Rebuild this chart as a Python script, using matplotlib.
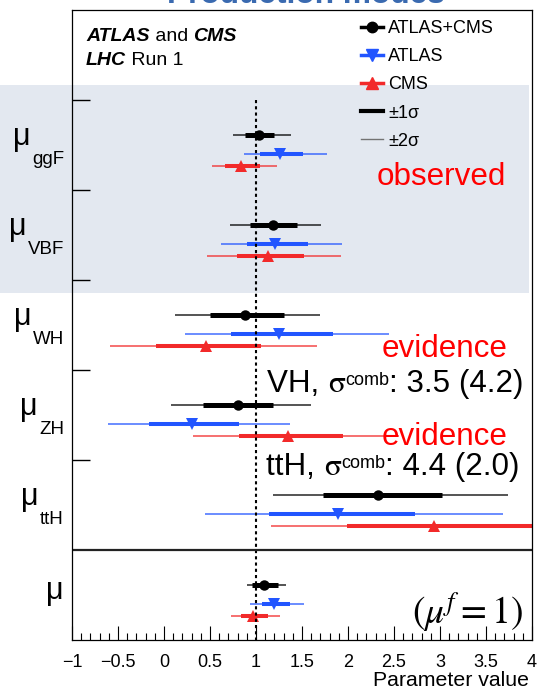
import matplotlib
matplotlib.use('Agg')
import matplotlib.pyplot as plt
import numpy as np
from matplotlib.lines import Line2D
from matplotlib.patches import Rectangle
from matplotlib.transforms import blended_transform_factory

plt.rcParams['font.family'] = ['Liberation Sans', 'DejaVu Sans']
plt.rcParams['mathtext.fontset'] = 'stix'

# rows from top to bottom, last one is the global signal strength
params = ['ggF', 'VBF', 'WH', 'ZH', 'ttH', '']

# best fit value, +-1 sigma and +-2 sigma intervals
comb = [1.03, 1.18, 0.88, 0.80, 2.33, 1.09]
comb_1s = [(0.88, 1.20), (0.94, 1.45), (0.50, 1.30), (0.42, 1.18), (1.73, 3.02), (0.96, 1.24)]
comb_2s = [(0.75, 1.38), (0.72, 1.71), (0.12, 1.70), (0.08, 1.60), (1.18, 3.74), (0.90, 1.33)]

atlas = [1.26, 1.21, 1.25, 0.30, 1.89, 1.20]
atlas_1s = [(1.04, 1.51), (0.90, 1.56), (0.73, 1.84), (-0.16, 0.82), (1.14, 2.73), (1.06, 1.37)]
atlas_2s = [(0.87, 1.77), (0.62, 1.93), (0.23, 2.45), (-0.61, 1.37), (0.45, 3.68), (0.94, 1.52)]

cms = [0.84, 1.13, 0.46, 1.35, 2.93, 0.97]
cms_1s = [(0.66, 1.04), (0.79, 1.52), (-0.09, 1.05), (0.81, 1.95), (1.99, 4.20), (0.84, 1.13)]
cms_2s = [(0.52, 1.23), (0.47, 1.92), (-0.59, 1.66), (0.31, 2.55), (1.16, 5.20), (0.73, 1.26)]

legend_labels = ['ATLAS+CMS', 'ATLAS', 'CMS', '\u00b11\u03c3', '\u00b12\u03c3']
xticks = np.arange(-1, 4.01, 0.5)
xticklabels = ['\u22121', '\u22120.5', '0', '0.5', '1', '1.5', '2', '2.5', '3', '3.5', '4']

BLUE = '#2255ff'
RED = '#f22a2a'
W, H = 539, 690

fig = plt.figure(figsize=(W / 100, H / 100), dpi=100)
ax = fig.add_axes([72 / W, 1 - 640 / H, 460 / W, 630 / H])
ax.set_facecolor('none')

# shaded "observed" band behind everything
fig.patches.append(Rectangle((0, 1 - 293 / H), 529 / W, 208 / H, transform=fig.transFigure,
                             facecolor='#e3e8f0', edgecolor='none', zorder=-5))

ax.set_xlim(-1, 4)
ax.set_ylim(7, 0)

series = [
    (comb, comb_1s, comb_2s, 'black', 'o', 0.39, 3.6, 7.5),
    (atlas, atlas_1s, atlas_2s, BLUE, 'v', 0.60, 2.9, 8),
    (cms, cms_1s, cms_2s, RED, '^', 0.73, 2.9, 8),
]
rows = np.arange(len(params)) + 1
for val, s1, s2, col, mk, off, lw1, ms in series:
    y = rows + off
    s1 = np.array(s1)
    s2 = np.array(s2)
    ax.hlines(y, s2[:, 0], s2[:, 1], colors=col, lw=1.1, capstyle='butt', alpha=0.85)
    ax.hlines(y, s1[:, 0], s1[:, 1], colors=col, lw=lw1, capstyle='butt')
    ax.plot(val, y, ls='none', marker=mk, color=col, ms=ms, mew=0)

# SM expectation and separator of the global mu
ax.vlines(1, 1, 7, colors='black', lw=1.5, linestyles=(0, (1.5, 1.5)))
ax.axhline(6, color='#222222', lw=1.6)

# axes cosmetics
for s in ax.spines.values():
    s.set_linewidth(0.9)
ax.set_xticks(xticks)
ax.set_xticklabels(xticklabels, fontsize=13)
ax.set_xticks(np.arange(-1, 4.001, 0.1), minor=True)
ax.tick_params(axis='x', which='major', direction='in', length=10, width=0.8, pad=10)
ax.tick_params(axis='x', which='minor', direction='in', length=5, width=0.8)
ax.set_yticks([1, 2, 3, 4, 5])
ax.set_yticklabels([])
ax.tick_params(axis='y', direction='in', length=13, width=1.0)

# row labels
lab_tr = blended_transform_factory(fig.transFigure, ax.transData)
for i, p in enumerate(params):
    yc = i + 1.5
    if p:
        sub = ax.annotate(p, xy=(64 / W, yc), xycoords=lab_tr, xytext=(0, -19 * 0.72),
                          textcoords='offset points', ha='right', va='baseline',
                          fontsize=13.5, annotation_clip=False)
        ax.annotate('\u03bc', xy=(0, yc), xycoords=(sub, ax.transData), xytext=(-1, 0),
                    textcoords='offset points', ha='right', va='baseline', fontsize=22,
                    annotation_clip=False)
    else:
        ax.annotate('\u03bc', xy=(64 / W, yc), xycoords=lab_tr, xytext=(0, -3),
                    textcoords='offset points', ha='right', va='baseline', fontsize=22,
                    annotation_clip=False)

# ATLAS and CMS / LHC Run 1
def text_chain(x, y, pieces, size):
    prev = fig.text(x, y, pieces[0][0], fontsize=size, va='baseline', **pieces[0][1])
    for s, kw in pieces[1:]:
        prev = ax.annotate(s, xy=(1, 0), xycoords=prev, va='bottom', ha='left',
                           fontsize=size, annotation_clip=False, **kw)

bi = dict(fontweight='bold', fontstyle='italic')
text_chain(86 / W, 1 - 41 / H, [('ATLAS', bi), (' and ', {}), ('CMS', bi)], 14)
text_chain(86 / W, 1 - 65 / H, [('LHC', bi), (' Run 1', {})], 14)


def sigma_label(x, y, head, tail, size=22.6):
    t = ax.text(x, y, head, fontsize=size, va='baseline')
    t = ax.annotate('\u03c3', xy=(1, y), xycoords=(t, ax.transData), va='baseline',
                    fontsize=size, family='STIXGeneral', annotation_clip=False)
    t = ax.annotate('comb', xy=(1, y), xycoords=(t, ax.transData), xytext=(0.5, 5),
                    textcoords='offset points', va='baseline', fontsize=13,
                    annotation_clip=False)
    ax.annotate(tail, xy=(1, y), xycoords=(t, ax.transData), va='baseline',
                fontsize=size, annotation_clip=False)


# legend
handles = [Line2D([], [], color='black', lw=2.5, marker='o', ms=7.5),
           Line2D([], [], color=BLUE, lw=2.5, marker='v', ms=8),
           Line2D([], [], color=RED, lw=2.5, marker='^', ms=8),
           Line2D([], [], color='black', lw=3),
           Line2D([], [], color='0.45', lw=1)]
ax.legend(handles, legend_labels, loc='upper left', bbox_to_anchor=(361 / W, 1 - 20 / H),
          bbox_transform=fig.transFigure, frameon=False, borderpad=0, borderaxespad=0,
          handlelength=1.22, handletextpad=0.28, labelspacing=0.62, fontsize=13)

# annotations
ax.text(2.315, 1.944, 'observed', color='red', fontsize=22.6, va='baseline')
ax.text(2.366, 3.852, 'evidence', color='red', fontsize=22.6, va='baseline')
sigma_label(1.116, 4.241, 'VH, ', ': 3.5 (4.2)')
ax.text(2.366, 4.833, 'evidence', color='red', fontsize=22.6, va='baseline')
sigma_label(1.109, 5.167, 'ttH, ', ': 4.4 (2.0)')
ax.text(3.902, 6.817, r'$(\mu^{f} = 1)$', fontsize=27, ha='right', va='baseline')

fig.text(529 / W, 1 - 686 / H, 'Parameter value', fontsize=15.3, ha='right', va='baseline')
fig.text(306 / W, 1 - 3 / H, 'Production modes', fontsize=22.8, fontweight='bold',
         color='#3a6ab0', ha='center', va='baseline')

fig.savefig('out.png', dpi=100)
